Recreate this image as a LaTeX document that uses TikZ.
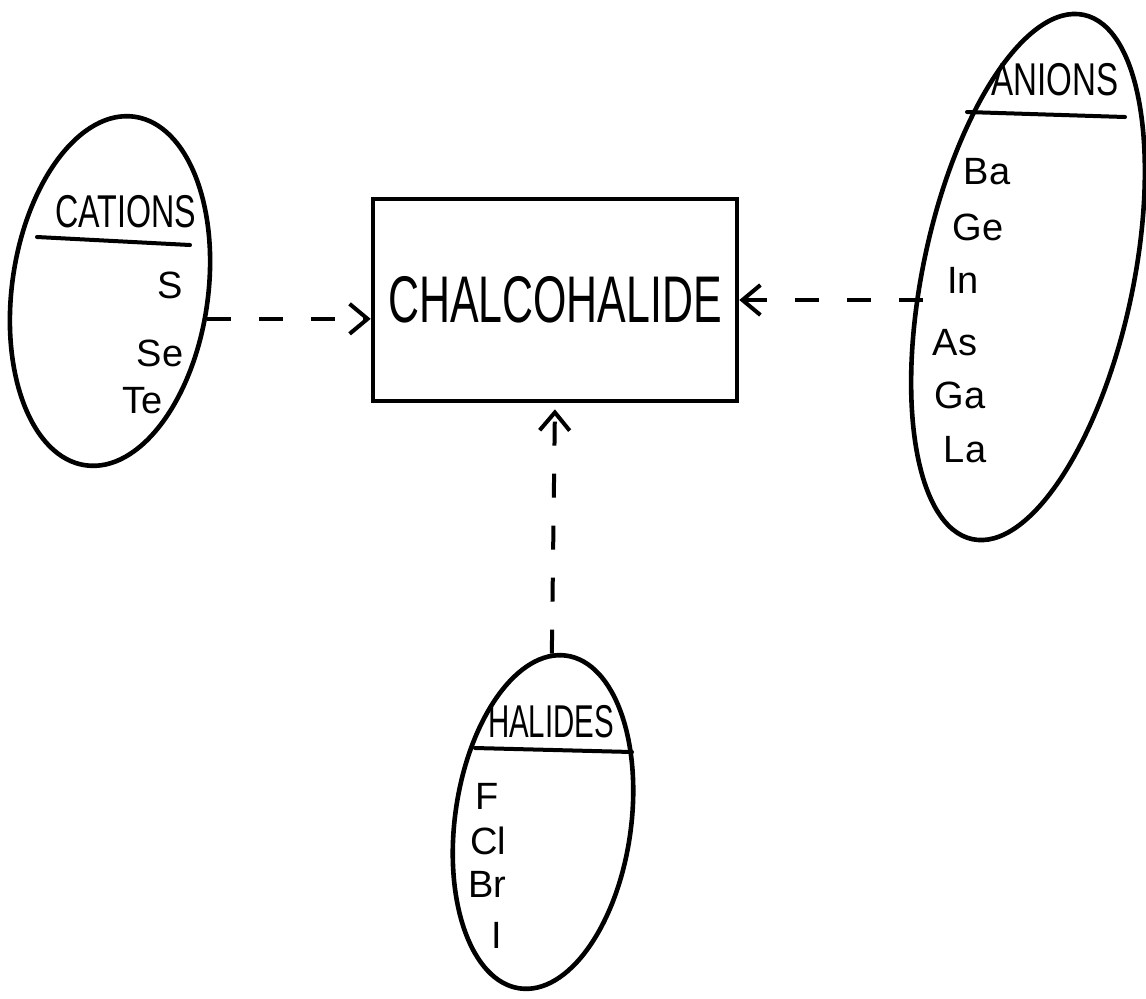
\documentclass[tikz,border=0pt]{standalone}
\usepackage{fontspec}
\setmainfont{Liberation Sans}
\usepackage{graphicx}
\usetikzlibrary{shapes.geometric,arrows.meta}

% condensed lettering for the headings
\newcommand{\narrow}[2]{\scalebox{#1}[1]{#2}}

\tikzset{
  blob/.style={draw, ellipse, line width=2.3pt, inner sep=0pt},
  frame/.style={draw, rectangle, line width=2.3pt, inner sep=0pt,
                minimum width=182pt, minimum height=101pt,
                font=\fontsize{33}{33}\selectfont},
  heading/.style={font=\fontsize{23}{23}\selectfont, inner sep=0pt},
  item/.style={font=\fontsize{19}{19}\selectfont, inner sep=0pt},
  divider/.style={line width=2pt, line cap=round},
  conn/.style={line width=2pt, dash pattern=on 12pt off 14pt,
               -{Straight Barb[length=9pt,width=15pt,line width=2pt]}},
}

\begin{document}
\begin{tikzpicture}[x=0.5pt,y=-0.5pt]
  \useasboundingbox (0,0) rectangle (1146,998);

  % central compound
  \node[frame] (box) at (555,300) {\narrow{0.65}{CHALCOHALIDE}};

  % cations
  \node[blob, minimum width=98pt, minimum height=176pt, rotate=-8] (cat) at (110,291) {};
  \draw[divider] (37,237) -- (190,245);
  \node[heading] (catH) at (126,212) {\narrow{0.7}{CATIONS}};
  \node[item] (catS)  at (170,285) {S};
  \node[item] (catSe) at (160,353) {Se};
  \node[item] (catTe) at (143,401) {Te};

  % anions
  \node[blob, minimum width=105pt, minimum height=268pt, rotate=-12] (ani) at (1028,277) {};
  \draw[divider] (967,112) -- (1125,117);
  \node[heading] (aniH) at (1055,80) {\narrow{0.72}{ANIONS}};
  \node[item] (aniBa) at (987,172) {Ba};
  \node[item] (aniGe) at (978,227) {Ge};
  \node[item] (aniIn) at (963,280) {In};
  \node[item] (aniAs) at (955,343) {As};
  \node[item] (aniGa) at (960,395) {Ga};
  \node[item] (aniLa) at (965,450) {La};

  % halides
  \node[blob, minimum width=88pt, minimum height=168pt, rotate=-8] (hal) at (543,822) {};
  \draw[divider] (475,748) -- (632,752);
  \node[heading] (halH) at (551,722) {\narrow{0.64}{HALIDES}};
  \node[item] (halF)  at (487,796) {F};
  \node[item] (halCl) at (488,841) {Cl};
  \node[item] (halBr) at (487,884) {Br};
  \node[item] (halI)  at (497,935) {I};

  % connectors into the compound
  \draw[conn] (cat.-8) -- (cat.-8 -| box.west);
  \draw[conn] (ani.west |- box.east) -- (box.east);
  \draw[conn, shorten >=3pt] (hal.95) -- (box.south);
\end{tikzpicture}
\end{document}
